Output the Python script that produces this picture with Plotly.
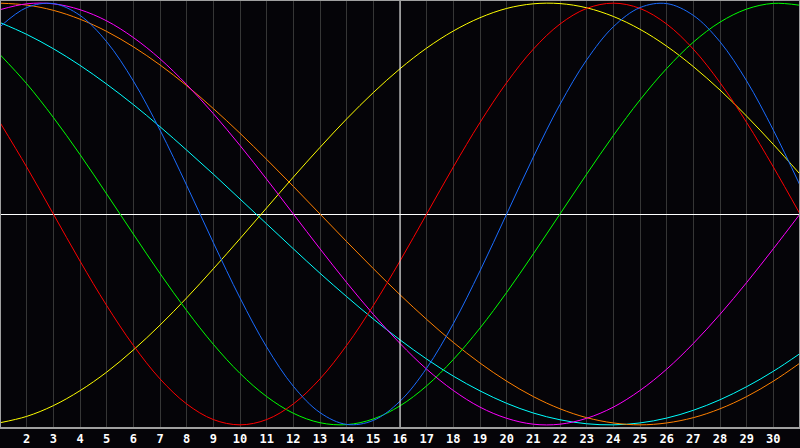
import plotly.graph_objects as go

days = list(range(1, 32))
tick_days = list(range(2, 31))

physical = [0.888, 0.979, 0.998, 0.942, 0.817, 0.631, 0.398, 0.136, -0.136, -0.398, -0.631, -0.817, -0.942, -0.998,
            -0.979, -0.888, -0.731, -0.520, -0.270, 0.0, 0.270, 0.520, 0.731, 0.888, 0.979, 0.998, 0.942, 0.817,
            0.631, 0.398, 0.136]
emotional = [0.434, 0.223, 0.0, -0.223, -0.434, -0.623, -0.782, -0.901, -0.975, -1.0, -0.975, -0.901, -0.782, -0.623,
             -0.434, -0.223, 0.0, 0.223, 0.434, 0.623, 0.782, 0.901, 0.975, 1.0, 0.975, 0.901, 0.782, 0.623, 0.434,
             0.223, 0.0]
intellectual = [0.756, 0.618, 0.458, 0.282, 0.095, -0.095, -0.282, -0.458, -0.618, -0.756, -0.866, -0.945, -0.990,
                -0.999, -0.972, -0.910, -0.815, -0.690, -0.541, -0.372, -0.189, 0.0, 0.189, 0.372, 0.541, 0.690,
                0.815, 0.910, 0.972, 0.999, 0.990]
intuitive = [0.969, 0.997, 0.997, 0.969, 0.916, 0.837, 0.736, 0.614, 0.476, 0.325, 0.165, 0.0, -0.165, -0.325, -0.476,
             -0.614, -0.736, -0.837, -0.916, -0.969, -0.997, -0.997, -0.969, -0.916, -0.837, -0.736, -0.614, -0.476,
             -0.325, -0.165, 0.0]
aesthetic = [-0.990, -0.960, -0.909, -0.838, -0.750, -0.645, -0.527, -0.398, -0.260, -0.117, 0.029, 0.175, 0.316,
             0.451, 0.576, 0.689, 0.787, 0.868, 0.931, 0.975, 0.997, 0.998, 0.978, 0.937, 0.876, 0.796, 0.699,
             0.588, 0.464, 0.330, 0.189]
awareness = [1.0, 0.991, 0.966, 0.924, 0.866, 0.793, 0.707, 0.609, 0.5, 0.383, 0.259, 0.131, 0.0, -0.131, -0.259,
             -0.383, -0.5, -0.609, -0.707, -0.793, -0.866, -0.924, -0.966, -0.991, -1.0, -0.991, -0.966, -0.924,
             -0.866, -0.793, -0.707]
spiritual = [0.908, 0.852, 0.784, 0.705, 0.616, 0.519, 0.414, 0.303, 0.189, 0.071, -0.047, -0.165, -0.281, -0.392,
             -0.498, -0.597, -0.688, -0.769, -0.839, -0.898, -0.944, -0.976, -0.995, -1.0, -0.991, -0.968, -0.931,
             -0.881, -0.819, -0.746, -0.662]

series = [
    ("Spiritual", spiritual, "#00ffff"),
    ("Awareness", awareness, "#ff8000"),
    ("Aesthetic", aesthetic, "#ffff00"),
    ("Intuitive", intuitive, "#ff00ff"),
    ("Intellectual", intellectual, "#00ff00"),
    ("Emotional", emotional, "#ff0000"),
    ("Physical", physical, "#1a6cff"),
]

today = 16

fig = go.Figure()
for name, vals, col in series:
    fig.add_trace(go.Scatter(x=days, y=vals, mode="lines", name=name,
                             line=dict(color=col, width=1, shape="spline", smoothing=1.0),
                             hoverinfo="skip"))

fig.add_shape(type="line", xref="x", yref="paper", x0=today, x1=today, y0=0, y1=1,
              line=dict(color="#ffffff", width=1), layer="above")
fig.add_shape(type="rect", xref="paper", yref="paper", x0=0, x1=1, y0=0, y1=1,
              line=dict(color="#a0a0a0", width=2), layer="above")

fig.update_layout(
    width=800, height=448,
    margin=dict(l=0, r=0, t=0, b=20),
    paper_bgcolor="#050408",
    plot_bgcolor="#050408",
    showlegend=False,
    hovermode=False,
    xaxis=dict(range=[1, 31], tickvals=tick_days, ticktext=[str(d) for d in tick_days],
               showgrid=True, gridcolor="#363636", gridwidth=1, zeroline=False,
               showline=False, ticks="", ticklabelstandoff=2,
               tickfont=dict(family="DejaVu Sans Mono", size=12, color="#ffffff", weight="bold"),
               fixedrange=True),
    yaxis=dict(range=[-1.015, 1.015], showgrid=False, showticklabels=False, ticks="",
               zeroline=True, zerolinecolor="#ffffff", zerolinewidth=1, showline=False,
               fixedrange=True),
)

fig.write_html("out.html", config={"displayModeBar": False},
               post_script="document.body.style.margin='0';document.body.style.background='#050408';")
